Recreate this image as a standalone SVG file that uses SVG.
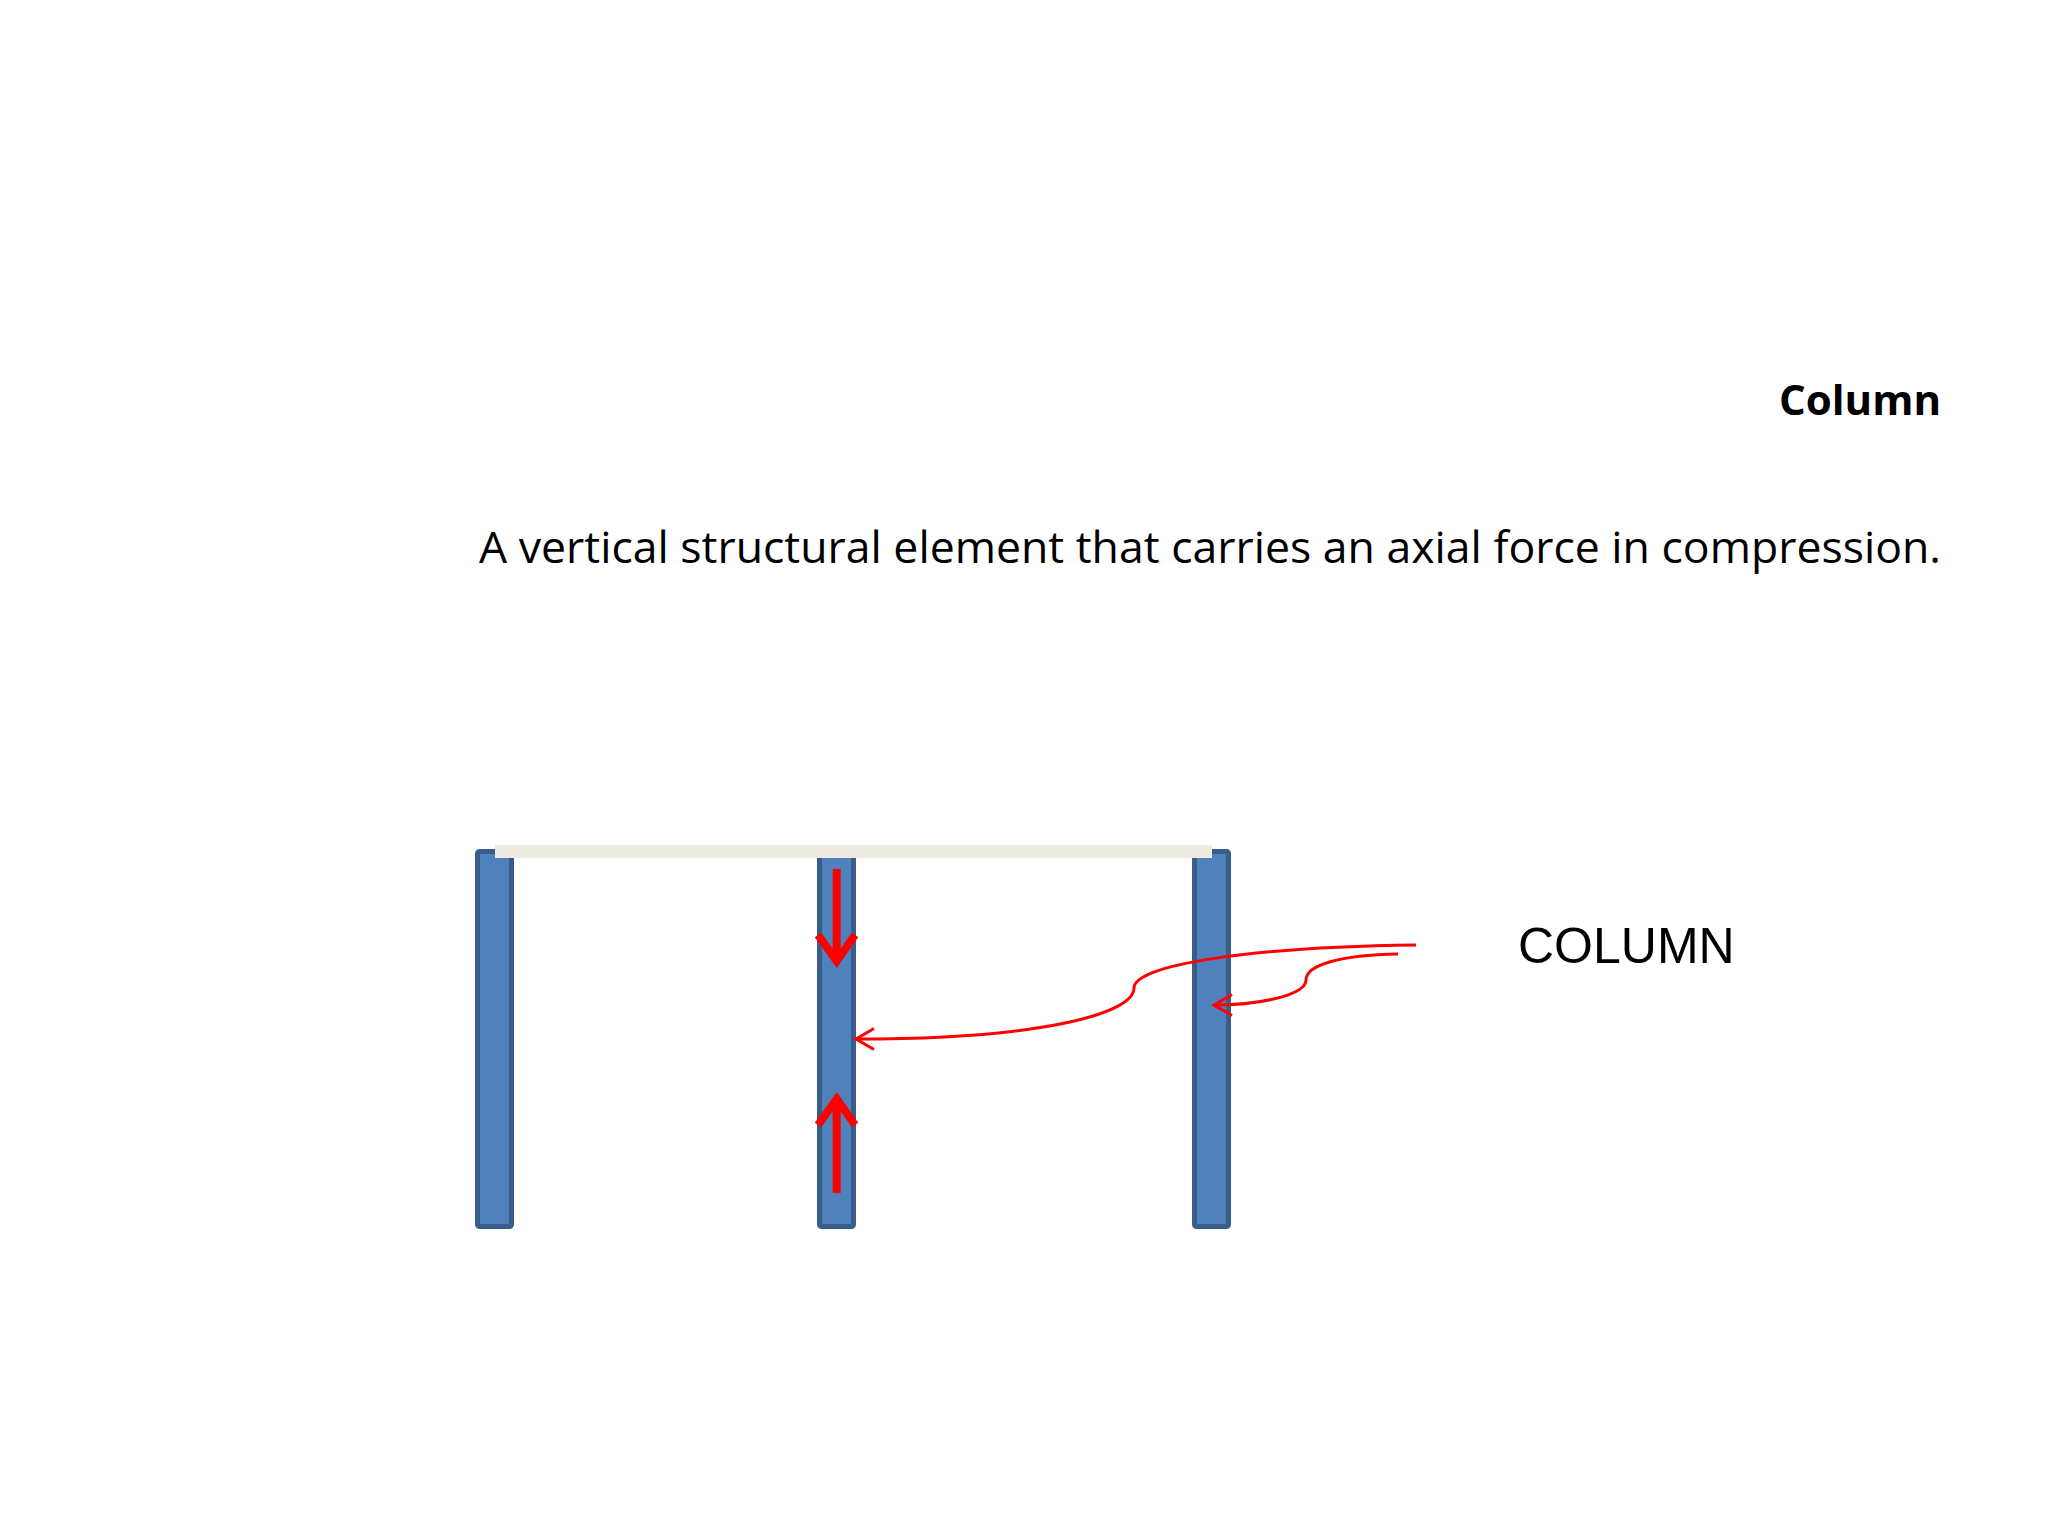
<svg xmlns="http://www.w3.org/2000/svg" width="2048" height="1536" viewBox="0 0 2048 1536">
<defs>
<style>
.col{fill:#4F81BD;stroke:#385D8A;stroke-width:5}
.beam{fill:#EEECE1}
.force{fill:none;stroke:#FF0000;stroke-width:8;stroke-linejoin:miter}
.conn{fill:none;stroke:#FF0000;stroke-width:3}
.t{font-family:"Open Sans","Liberation Sans",sans-serif;fill:#000}
</style>
<marker id="open" markerUnits="userSpaceOnUse" markerWidth="40" markerHeight="40" viewBox="-30 -20 40 40" refX="0" refY="0" orient="auto" overflow="visible">
<path d="M-18,-10.5 L0,0 L-18,10.5" fill="none" stroke="#FF0000" stroke-width="3"/>
</marker>
</defs>
<rect width="2048" height="1536" fill="#FFFFFF"/>
<g id="title"><text class="t" x="1941" y="415" font-size="42" font-weight="bold" text-anchor="end">Column</text></g>
<g id="definition"><text class="t" x="479" y="563" font-size="44" textLength="1462" lengthAdjust="spacingAndGlyphs">A vertical structural element that carries an axial force in compression.</text></g>
<g id="column-left"><rect class="col" x="477.5" y="851.5" width="34" height="375" rx="2"/></g>
<g id="column-middle"><rect class="col" x="819.5" y="851.5" width="34" height="375" rx="2"/></g>
<g id="column-right"><rect class="col" x="1194.5" y="851.5" width="34" height="375" rx="2"/></g>
<g id="beam"><rect class="beam" x="495" y="845" width="717" height="13"/></g>
<g id="forces">
<path class="force" d="M836.7,869 L836.7,962"/>
<path class="force" d="M818,935 L836.7,961 L855,935"/>
<path class="force" d="M836.7,1193 L836.7,1100"/>
<path class="force" d="M818,1125 L836.7,1099 L855,1125"/>
</g>
<g id="label"><text x="1518" y="963" font-family="Liberation Sans, Arial, sans-serif" font-size="50" fill="#000">COLUMN</text></g>
<g id="connectors">
<path class="conn" d="M1416,945 C1250,947 1134,965 1134,988 C1134,1014 1040,1039 856,1039" marker-end="url(#open)"/>
<path class="conn" d="M1398,954 C1340,955 1306,965 1306,980 C1306,995 1260,1005 1214,1005" marker-end="url(#open)"/>
</g>
</svg>
